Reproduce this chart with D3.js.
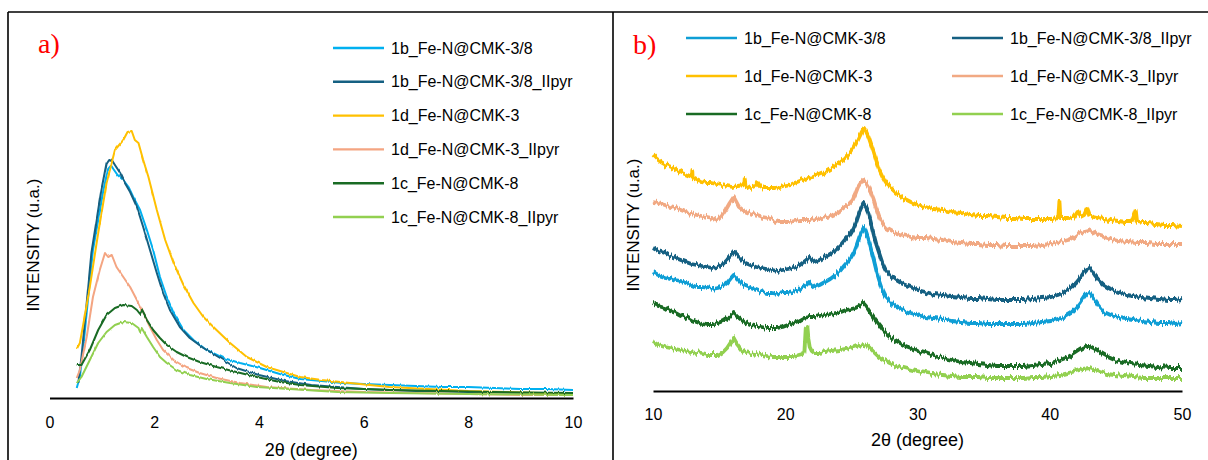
<!DOCTYPE html>
<html>
<head>
<meta charset="utf-8">
<script src="https://cdn.jsdelivr.net/npm/d3@7"></script>
<style>
  html, body { margin: 0; padding: 0; background: #fff; }
  svg { display: block; }
</style>
</head>
<body>
<svg id="chart" width="1208" height="460" font-family="Arial, 'Liberation Sans', sans-serif"></svg>
<script>
// ---------- shared legend labels ----------
const seriesNames = [
  "1b_Fe-N@CMK-3/8",
  "1b_Fe-N@CMK-3/8_IIpyr",
  "1d_Fe-N@CMK-3",
  "1d_Fe-N@CMK-3_IIpyr",
  "1c_Fe-N@CMK-8",
  "1c_Fe-N@CMK-8_IIpyr"
];
const colorsA = ["#00B0F0", "#156082", "#FFC000", "#F4A582", "#196B24", "#92D050"];
const colorsB = ["#0F9ED5", "#156082", "#FFC000", "#F1A983", "#196B24", "#92D050"];

// ---------- panel a: low-angle XRD (2θ, intensity) ----------
const ticksA = [0, 2, 4, 6, 8, 10];
const a_1b = [[0.52,10],[0.58,21],[0.64,48],[0.74,101],[0.83,148],[0.93,178],[1.03,208],[1.12,230],[1.17,233],[1.22,229],[1.30,223],[1.41,218],[1.51,211],[1.60,201],[1.73,188],[1.86,168],[1.98,148],[2.11,121],[2.24,101],[2.37,85],[2.56,68],[2.75,58],[3.00,48],[3.32,40],[3.64,35],[4.02,30],[4.40,24],[4.79,19],[5.2,17],[5.6,15],[6.0,14],[6.5,13],[7.0,12],[7.5,11],[8.0,11],[8.5,10],[9.0,9],[9.5,9],[10.0,8]];
const a_1bII = [[0.55,15],[0.61,41],[0.71,95],[0.80,145],[0.90,178],[0.99,208],[1.09,235],[1.14,239],[1.19,238],[1.25,233],[1.35,225],[1.44,215],[1.54,206],[1.67,191],[1.79,171],[1.92,148],[2.05,125],[2.17,105],[2.30,88],[2.49,71],[2.68,60],[2.94,50],[3.26,40],[3.57,30],[4.0,23],[4.5,17],[5.0,13],[5.5,11],[6.0,9],[7.0,7],[8.0,6],[9.0,5],[10.0,5]];
const a_1d = [[0.52,49],[0.58,55],[0.66,78],[0.77,111],[0.93,165],[1.09,215],[1.25,248],[1.41,258],[1.49,266],[1.57,267],[1.63,258],[1.70,255],[1.79,238],[1.89,221],[2.05,188],[2.21,158],[2.37,135],[2.56,113],[2.75,95],[2.94,81],[3.19,68],[3.45,55],[3.77,41],[4.15,31],[4.53,25],[4.79,21],[5.2,18],[5.74,15],[6.49,11],[7.23,9],[8.0,7],[8.72,6],[9.4,5],[10.0,5]];
const a_1dII = [[0.52,20],[0.58,28],[0.71,61],[0.83,101],[0.96,128],[1.06,145],[1.12,141],[1.19,143],[1.28,131],[1.41,121],[1.54,111],[1.67,98],[1.79,85],[1.92,71],[2.05,58],[2.17,48],[2.37,38],[2.62,30],[2.87,25],[3.19,20],[3.64,15],[4.15,11],[5.0,8],[6.0,6],[7.0,5],[8.0,4],[9.0,3],[10.0,3]];
const a_1c = [[0.52,33],[0.61,33],[0.77,48],[0.93,68],[1.09,83],[1.25,90],[1.41,93],[1.57,92],[1.67,88],[1.73,84],[1.76,88],[1.86,78],[1.98,68],[2.11,60],[2.24,53],[2.43,46],[2.62,41],[2.87,36],[3.19,31],[3.57,26],[3.96,21],[4.40,16],[4.79,13],[5.5,10],[6.5,8],[7.5,7],[8.5,6],[10.0,5]];
const a_1cII = [[0.52,15],[0.61,21],[0.77,38],[0.93,55],[1.09,66],[1.25,73],[1.41,76],[1.57,75],[1.70,70],[1.73,66],[1.76,70],[1.86,61],[1.98,51],[2.11,41],[2.24,35],[2.43,28],[2.68,23],[3.00,19],[3.45,15],[3.96,11],[4.59,9],[5.5,6],[6.5,5],[8.0,4],[10.0,3]];

// ---------- panel b: wide-angle XRD (2θ, offset intensity) ----------
const ticksB = [10, 20, 30, 40, 50];
const b_1b = [[10.0,119],[10.4,116],[10.9,114],[11.3,113],[11.7,111],[12.1,110],[12.5,108],[12.9,106],[13.3,104],[13.7,104],[14.1,103],[14.5,102],[14.9,103],[15.3,105],[15.6,108],[15.9,113],[16.1,116],[16.4,112],[16.7,108],[17.0,105],[17.35,103],[17.8,101],[18.2,99],[18.6,98],[19.0,98],[19.4,97],[19.8,98],[20.2,98],[20.6,99],[21.0,101],[21.3,104],[21.6,106],[21.8,109],[22.0,106],[22.2,104],[22.6,106],[23.0,109],[23.4,112],[23.8,116],[24.2,121],[24.5,126],[24.9,132],[25.2,139],[25.4,146],[25.6,154],[25.8,160],[25.95,164],[26.1,159],[26.3,151],[26.5,141],[26.7,131],[26.9,120],[27.1,111],[27.35,101],[27.6,94],[28.0,88],[28.4,84],[28.9,81],[29.5,78],[30.0,76],[30.6,74],[31.2,73],[31.9,72],[32.6,70],[33.3,69],[34.0,68],[34.6,68],[35.3,67],[36.0,67],[36.7,67],[37.4,67],[38.0,67],[38.7,68],[39.4,69],[40.1,70],[40.6,72],[41.1,74],[41.6,78],[42.0,83],[42.3,88],[42.6,94],[42.8,97],[43.0,98],[43.2,95],[43.4,91],[43.7,85],[44.1,79],[44.6,76],[45.2,74],[45.8,73],[46.3,72],[47.0,70],[47.6,69],[48.3,68],[49.0,68],[49.5,67],[50.0,68]];
const b_1bII = [[10.0,143],[10.4,140],[10.9,138],[11.3,135],[11.7,133],[12.1,131],[12.5,129],[12.9,127],[13.3,126],[13.7,125],[14.1,124],[14.5,123],[14.9,124],[15.3,127],[15.6,131],[15.9,136],[16.1,139],[16.4,135],[16.7,131],[17.0,128],[17.35,126],[17.8,124],[18.2,123],[18.6,122],[19.0,121],[19.4,120],[19.8,121],[20.2,122],[20.6,123],[21.0,125],[21.3,128],[21.6,131],[21.8,134],[22.0,131],[22.2,129],[22.6,131],[23.0,134],[23.4,137],[23.8,141],[24.2,146],[24.5,151],[24.9,157],[25.2,164],[25.4,171],[25.6,179],[25.8,185],[25.9,188],[26.1,184],[26.3,178],[26.5,167],[26.7,156],[26.9,146],[27.1,138],[27.35,128],[27.6,121],[28.0,115],[28.4,111],[28.9,107],[29.5,104],[30.0,101],[30.6,99],[31.2,97],[31.9,96],[32.6,95],[33.3,94],[34.0,93],[34.6,93],[35.3,92],[36.0,91],[36.7,91],[37.4,91],[38.0,91],[38.7,92],[39.4,93],[40.1,94],[40.6,96],[41.1,99],[41.6,103],[42.0,108],[42.3,113],[42.6,119],[42.8,122],[43.0,123],[43.2,120],[43.4,116],[43.7,111],[44.1,106],[44.6,102],[45.2,99],[45.8,97],[46.3,96],[47.0,94],[47.6,93],[48.3,92],[49.0,91],[49.5,91],[50.0,92]];
const b_1d = [[10.0,236],[10.3,232],[10.6,229],[11.0,226],[11.4,224],[11.8,221],[12.2,218],[12.6,216],[12.95,214],[12.97,220],[13.0,213],[13.3,211],[13.6,209],[14.0,208],[14.4,208],[14.8,207],[15.2,206],[15.6,205],[16.0,204],[16.4,205],[16.9,206],[16.94,212],[17.0,205],[17.35,203],[17.7,205],[17.9,209],[18.1,205],[18.4,203],[18.8,203],[19.2,203],[19.6,204],[20.05,206],[20.5,207],[20.9,209],[21.3,211],[21.7,213],[22.1,214],[22.5,216],[22.9,218],[23.3,221],[23.7,224],[24.1,228],[24.5,232],[24.9,238],[25.2,244],[25.5,251],[25.75,258],[25.95,263],[26.1,260],[26.3,254],[26.5,246],[26.7,238],[26.9,229],[27.1,221],[27.35,214],[27.6,208],[28.0,203],[28.4,198],[28.9,193],[29.5,189],[30.0,186],[30.6,184],[31.2,182],[31.9,181],[32.6,179],[33.3,178],[34.0,176],[34.6,175],[35.3,175],[36.0,174],[36.7,173],[37.4,173],[38.0,172],[38.7,172],[39.4,172],[40.1,172],[40.65,173],[40.73,190],[40.8,173],[41.4,173],[41.8,174],[42.1,180],[42.3,175],[42.6,177],[42.8,183],[43.0,176],[43.3,174],[43.6,173],[44.1,172],[44.6,171],[45.2,170],[45.7,169],[46.2,169],[46.5,180],[46.6,169],[47.0,168],[47.4,168],[48.0,167],[48.7,166],[49.3,166],[50.0,165]];
const b_1dII = [[10.0,189],[10.4,188],[10.9,186],[11.3,184],[11.7,183],[12.1,181],[12.5,179],[12.9,178],[13.3,176],[13.7,175],[14.1,174],[14.5,173],[14.9,171],[15.2,175],[15.5,181],[15.8,188],[16.1,194],[16.3,189],[16.5,184],[16.8,181],[17.1,179],[17.5,177],[17.9,176],[18.3,174],[18.7,173],[19.1,171],[19.5,169],[19.9,169],[20.3,169],[20.7,170],[21.1,171],[21.5,171],[21.9,171],[22.3,172],[22.8,173],[23.2,174],[23.6,176],[24.0,179],[24.4,183],[24.8,187],[25.1,191],[25.3,197],[25.5,204],[25.7,208],[25.9,211],[26.1,208],[26.3,204],[26.5,198],[26.7,191],[26.9,182],[27.1,174],[27.35,168],[27.6,164],[28.0,161],[28.4,158],[28.9,156],[29.5,154],[30.0,153],[30.6,153],[31.2,152],[31.9,151],[32.6,149],[33.3,148],[34.0,147],[34.6,147],[35.3,146],[36.0,146],[36.7,145],[37.4,145],[38.0,145],[38.7,145],[39.4,146],[40.1,147],[40.8,149],[41.4,151],[41.8,154],[42.2,158],[42.6,160],[42.9,161],[43.2,159],[43.6,156],[44.1,154],[44.6,152],[45.2,150],[45.9,149],[46.6,148],[47.4,148],[48.0,147],[48.7,147],[49.3,147],[50.0,147]];
const b_1c = [[10.0,89],[10.4,86],[10.9,84],[11.3,81],[11.7,79],[12.1,76],[12.5,74],[12.9,71],[13.3,69],[13.7,67],[14.1,66],[14.5,66],[14.9,68],[15.3,70],[15.7,73],[15.9,76],[16.1,78],[16.4,74],[16.7,71],[17.0,68],[17.35,66],[17.8,65],[18.2,64],[18.6,63],[19.0,63],[19.4,63],[19.8,64],[20.2,66],[20.6,68],[21.0,70],[21.4,73],[21.8,74],[22.2,74],[22.6,75],[23.0,76],[23.4,77],[23.8,78],[24.2,79],[24.6,81],[25.0,82],[25.3,83],[25.6,85],[25.9,88],[26.1,85],[26.3,81],[26.55,76],[26.8,71],[27.1,66],[27.4,61],[27.65,57],[27.9,54],[28.3,51],[28.7,48],[29.1,45],[29.5,43],[30.0,40],[30.6,38],[31.2,35],[31.9,33],[32.6,31],[33.3,29],[34.0,28],[34.6,27],[35.3,26],[36.0,25],[36.7,25],[37.4,25],[38.0,25],[38.7,26],[39.4,27],[40.1,28],[40.8,31],[41.4,34],[41.9,38],[42.5,43],[42.8,45],[43.0,45],[43.3,43],[43.6,41],[44.0,37],[44.4,34],[44.9,31],[45.5,29],[46.1,27],[46.8,26],[47.5,25],[48.2,24],[49.1,23],[50.0,23]];
const b_1cII = [[10.0,49],[10.4,46],[10.9,44],[11.3,43],[11.7,42],[12.1,41],[12.5,40],[12.9,39],[13.3,38],[13.7,37],[14.1,36],[14.5,36],[14.9,36],[15.3,39],[15.6,43],[15.9,49],[16.1,53],[16.35,47],[16.7,41],[17.0,39],[17.35,38],[17.8,37],[18.2,36],[18.6,35],[19.0,34],[19.4,34],[19.8,34],[20.2,34],[20.6,34],[21.0,35],[21.3,36],[21.45,40],[21.55,63],[21.67,64],[21.75,52],[21.85,44],[22.0,40],[22.2,38],[22.6,38],[23.0,39],[23.5,40],[24.1,41],[24.6,42],[25.2,44],[25.6,46],[25.9,47],[26.15,46],[26.4,43],[26.7,39],[27.1,34],[27.5,31],[27.9,28],[28.4,25],[29.0,23],[29.6,21],[30.3,19],[31.1,17],[31.9,16],[32.6,15],[33.3,14],[34.0,14],[34.6,14],[35.3,13],[36.0,13],[36.7,13],[37.4,13],[38.0,13],[38.7,14],[39.4,14],[40.1,15],[40.8,16],[41.4,18],[42.0,20],[42.5,22],[43.0,23],[43.4,21],[43.8,19],[44.3,17],[44.9,16],[45.6,15],[46.3,14],[47.1,13],[47.9,13],[49.0,13],[50.0,13]];

const panelA = [a_1b, a_1bII, a_1d, a_1dII, a_1c, a_1cII];
const panelB = [b_1b, b_1bII, b_1d, b_1dII, b_1c, b_1cII];

const svg = d3.select("#chart");

// counting-noise texture for the diffractogram strokes: a vertical-only jitter
// that varies along x and is nearly constant across the stroke width
const defs = svg.append("defs");
function grain(id, freq, scale, seed) {
  const f = defs.append("filter").attr("id", id)
    .attr("filterUnits", "userSpaceOnUse")
    .attr("color-interpolation-filters", "sRGB")
    .attr("x", 0).attr("y", 0).attr("width", 1208).attr("height", 460);
  f.append("feTurbulence").attr("type", "fractalNoise")
    .attr("baseFrequency", freq).attr("numOctaves", 2).attr("seed", seed).attr("result", "noise");
  // red channel pinned to mid-grey so there is no horizontal shift
  f.append("feColorMatrix").attr("in", "noise").attr("type", "matrix")
    .attr("values", "0 0 0 0 0.5  0 1 0 0 0  0 0 1 0 0  0 0 0 0 1").attr("result", "vnoise");
  f.append("feDisplacementMap").attr("in", "SourceGraphic").attr("in2", "vnoise")
    .attr("scale", scale).attr("xChannelSelector", "R").attr("yChannelSelector", "G");
}
grain("grainA", "0.45 0.015", 3, 3);
grain("grainB", "0.55 0.015", 7.5, 7);

// outer frame of the figure (top edge, left edge, divider between panels)
const frame = svg.append("g").attr("stroke", "#000").attr("stroke-width", 1.6);
frame.append("line").attr("x1", 8).attr("y1", 12).attr("x2", 1208).attr("y2", 12);
frame.append("line").attr("x1", 8).attr("y1", 12).attr("x2", 8).attr("y2", 460);
frame.append("line").attr("x1", 613).attr("y1", 12).attr("x2", 613).attr("y2", 460);

function drawPanel(opt) {
  const g = svg.append("g");
  const x = d3.scaleLinear().domain(opt.xDomain).range([opt.left, opt.right]);
  const y = d3.scaleLinear().domain([0, 300]).range([opt.base, opt.base - 300]);

  // x axis: baseline only, labels without tick marks
  const axis = d3.axisBottom(x).tickValues(opt.ticks).tickSize(0).tickPadding(opt.tickPad);
  const ax = g.append("g").attr("transform", `translate(0,${opt.base})`).call(axis);
  ax.select(".domain").attr("stroke", "#000").attr("stroke-width", 2.2);
  ax.selectAll("text").attr("font-size", 16)
    .attr("font-family", "Arial, 'Liberation Sans', sans-serif").attr("fill", "#000");

  // data lines
  const line = d3.line().x(d => x(d[0])).y(d => y(d[1]));
  g.append("g").attr("filter", `url(#${opt.grain})`)
    .selectAll("path").data(opt.series).join("path")
    .attr("d", line)
    .attr("fill", "none")
    .attr("stroke", (d, i) => opt.colors[i])
    .attr("stroke-width", opt.lw)
    .attr("stroke-linejoin", "round");

  // axis titles
  g.append("text")
    .attr("x", (opt.left + opt.right) / 2).attr("y", opt.xTitleY)
    .attr("text-anchor", "middle").attr("font-size", 18)
    .text("2θ (degree)");
  g.append("text")
    .attr("transform", `translate(${opt.yTitleX},${opt.yTitleY}) rotate(-90)`)
    .attr("text-anchor", "middle").attr("font-size", 17)
    .text("INTENSITY (u.a.)");

  // panel tag
  g.append("text")
    .attr("x", opt.tagX).attr("y", opt.tagY)
    .attr("font-family", "'Liberation Serif', 'Times New Roman', serif")
    .attr("font-size", 28).attr("fill", "#FF0000")
    .text(opt.tag);

  // legend
  const lg = g.append("g");
  seriesNames.forEach((name, i) => {
    const p = opt.legendPos(i);
    lg.append("line").attr("x1", p[0]).attr("x2", p[0] + 51)
      .attr("y1", p[1]).attr("y2", p[1])
      .attr("stroke", opt.colors[i]).attr("stroke-width", 2.4);
    lg.append("text").attr("x", p[0] + 58).attr("y", p[1])
      .attr("dy", "0.35em").attr("font-size", 16).text(name);
  });
}

drawPanel({
  xDomain: [0, 10], left: 49.5, right: 573, base: 398, ticks: ticksA, tickPad: 19,
  series: panelA, colors: colorsA, lw: 2, grain: "grainA",
  xTitleY: 456, yTitleX: 39, yTitleY: 245,
  tag: "a)", tagX: 38, tagY: 53,
  legendPos: i => [333, 48 + i * 33.8]
});

drawPanel({
  xDomain: [10, 50], left: 653, right: 1182, base: 391, ticks: ticksB, tickPad: 18,
  series: panelB, colors: colorsB, lw: 3.8, grain: "grainB",
  xTitleY: 446, yTitleX: 639, yTitleY: 225,
  tag: "b)", tagX: 633, tagY: 54,
  legendPos: i => [i % 2 === 0 ? 686 : 952, 38 + Math.floor(i / 2) * 38]
});
</script>
</body>
</html>
